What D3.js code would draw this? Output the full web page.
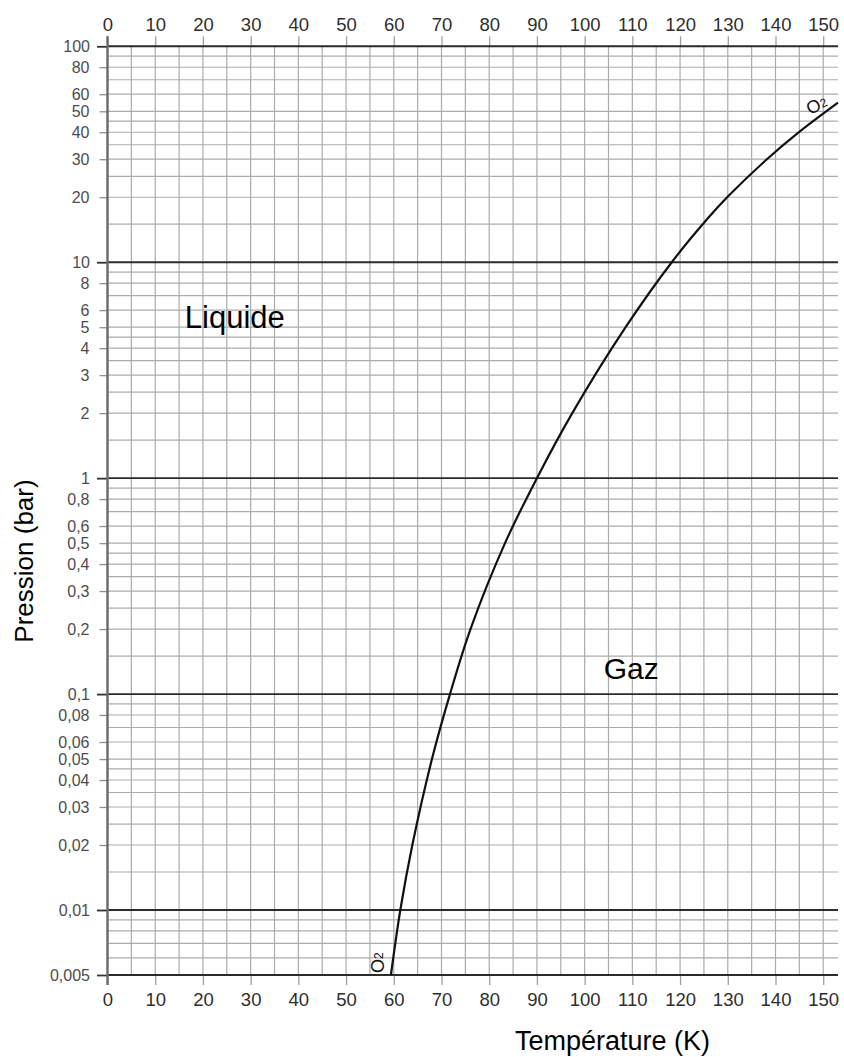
<!DOCTYPE html>
<html><head><meta charset="utf-8">
<script src="https://cdn.jsdelivr.net/npm/d3@7"></script>
<style>
body{margin:0;background:#fff}
svg{display:block}
text{font-family:"Liberation Sans",Arial,Helvetica,sans-serif}
</style>
</head><body>
<svg id="chart" width="844" height="1057"></svg>
<script>
// ---- data ----
const temperatureK = [59.4, 61.37, 63.89, 68.0, 71.78, 76.08, 83.31, 90.0, 97.41, 108.59, 118.26, 125.96, 130.07, 138.14, 144.72, 153.1];
const pressureBar  = [0.005, 0.01, 0.02, 0.05, 0.1, 0.2, 0.5, 1, 2, 5, 10, 16.1, 20.2, 29.9, 39.7, 54.8];

const xTickValues = [0,10,20,30,40,50,60,70,80,90,100,110,120,130,140,150];
const xGridValues = [0,5,10,15,20,25,30,35,40,45,50,55,60,65,70,75,80,85,90,95,100,105,110,115,120,125,130,135,140,145,150];
const yDecadeTicks = [100, 10, 1, 0.1, 0.01, 0.005];
const yMinorLabels = [80,60,50,40,30,20, 8,6,5,4,3,2, 0.8,0.6,0.5,0.4,0.3,0.2, 0.08,0.06,0.05,0.04,0.03,0.02];
const yGridDecades = [0.01, 0.1, 1, 10];
const yGridMultipliers = [1.5,2,2.5,3,3.5,4,4.5,5,6,7,8,9];
const yGridExtra = [0.006, 0.007, 0.008, 0.009];

const xTitle = "Température (K)";
const yTitle = "Pression (bar)";
const regionLabels = [{text:"Liquide", t:16.2, p:4.95, size:31}, {text:"Gaz", t:104.0, p:0.118, size:30}];

// ---- scales ----
const x = d3.scaleLinear().domain([0, 153.1]).range([107.5, 838]);
const y = d3.scaleLog().domain([0.005, 100]).range([975, 46.3]);
const [x0, x1] = x.range();
const [yb, yt] = y.range();

const svg = d3.select("#chart");
const fr = v => String(v).replace(".", ",");

// vertical grid
svg.append("g").selectAll("line").data(xGridValues).join("line")
  .attr("x1", d => x(d)).attr("x2", d => x(d))
  .attr("y1", yt).attr("y2", yb)
  .attr("stroke", "#ababab").attr("stroke-width", 1.2);

// horizontal minor grid
const yGridValues = yGridExtra.concat(...yGridDecades.map(dec => yGridMultipliers.map(m => +(dec*m).toPrecision(3))));
svg.append("g").selectAll("line").data(yGridValues).join("line")
  .attr("x1", x0).attr("x2", x1)
  .attr("y1", d => y(d)).attr("y2", d => y(d))
  .attr("stroke", "#ababab").attr("stroke-width", 1.2);

// top & bottom axes
const topAx = svg.append("g").attr("transform", `translate(0,${yt})`)
  .call(d3.axisTop(x).tickValues(xTickValues).tickSize(10).tickPadding(5.5));
const botAx = svg.append("g").attr("transform", `translate(0,${yb})`)
  .call(d3.axisBottom(x).tickValues(xTickValues).tickSize(10).tickPadding(8));
[topAx, botAx].forEach(g => {
  g.select(".domain").remove();
  g.selectAll(".tick line").attr("stroke", "#a0a0a0").attr("stroke-width", 1.3);
  g.selectAll(".tick text").attr("fill", "#2e2e2e").style("font-size", "18.5px")
    .attr("font-family", null);
});

// left axes (labels)
const leftMinor = svg.append("g").attr("transform", `translate(${x0},0)`)
  .call(d3.axisLeft(y).tickValues(yMinorLabels).tickSize(8).tickPadding(10).tickFormat(fr));
const leftMajor = svg.append("g").attr("transform", `translate(${x0},0)`)
  .call(d3.axisLeft(y).tickValues(yDecadeTicks).tickSize(10.5).tickPadding(7).tickFormat(fr));
[leftMinor, leftMajor].forEach(g => {
  g.select(".domain").remove();
  g.selectAll(".tick line").attr("stroke", "#8f8f8f").attr("stroke-width", 1.3);
  g.selectAll(".tick text").attr("fill", "#4d4d4d").style("font-size", "16px")
    .attr("font-family", null);
});
leftMajor.selectAll(".tick line").attr("stroke", "#333").attr("stroke-width", 1.8);

// decade lines
svg.append("g").selectAll("line").data(yDecadeTicks).join("line")
  .attr("x1", x0).attr("x2", x1)
  .attr("y1", d => y(d)).attr("y2", d => y(d))
  .attr("stroke", "#2b2b2b").attr("stroke-width", 1.9);

// left border (0 K)
svg.append("line")
  .attr("x1", x(0)).attr("x2", x(0)).attr("y1", yt - 10).attr("y2", yb + 10)
  .attr("stroke", "#6a6a6a").attr("stroke-width", 2.4);

// vapour pressure curve
const pts = temperatureK.map((t, i) => [t, pressureBar[i]]);
svg.append("path").datum(pts)
  .attr("fill", "none").attr("stroke", "#111").attr("stroke-width", 2.2)
  .attr("d", d3.line().x(d => x(d[0])).y(d => y(d[1])).curve(d3.curveCatmullRom.alpha(0.5)));

// O2 labels
function o2(tx, ty, rot) {
  const t = svg.append("text").attr("transform", `translate(${tx},${ty}) rotate(${rot})`)
    .attr("fill", "#111").style("font-size", "18px");
  t.append("tspan").text("O");
  t.append("tspan").attr("dy", -1).style("font-size", "12px").text("2");
}
o2(x(58.0), y(0.005) - 2, -90);
o2(x(147.2), y(54.7) + 12, -25);

// region labels
svg.append("g").selectAll("text").data(regionLabels).join("text")
  .attr("x", d => x(d.t)).attr("y", d => y(d.p))
  .attr("fill", "#000").style("font-size", d => d.size + "px")
  .text(d => d.text);

// axis titles
svg.append("text").attr("x", 515).attr("y", 1050)
  .attr("fill", "#000").style("font-size", "27px").text(xTitle);
svg.append("text").attr("transform", "translate(32.5,561) rotate(-90)")
  .attr("text-anchor", "middle").attr("fill", "#000").style("font-size", "26px").text(yTitle);
</script>
</body></html>
